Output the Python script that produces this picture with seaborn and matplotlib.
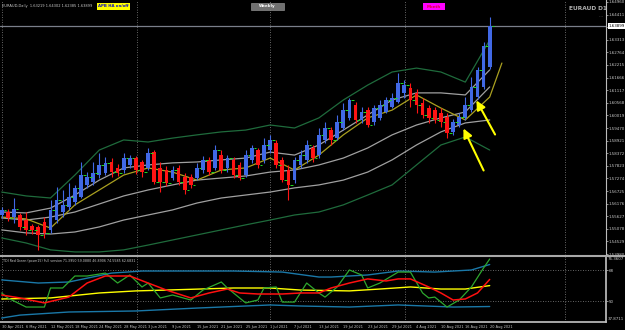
import matplotlib
matplotlib.use("Agg")
import matplotlib.pyplot as plt
import matplotlib.transforms as mtransforms
from matplotlib.patches import Rectangle
from matplotlib.lines import Line2D
import numpy as np
import seaborn as sns

# --- data (EURAUD daily, 30 Apr - 20 Aug 2021) ---
date_labels = ["30 Apr 2021", "6 May 2021", "12 May 2021", "18 May 2021", "24 May 2021",
               "28 May 2021", "3 Jun 2021", "9 Jun 2021", "15 Jun 2021", "21 Jun 2021",
               "25 Jun 2021", "1 Jul 2021", "7 Jul 2021", "13 Jul 2021", "19 Jul 2021",
               "23 Jul 2021", "29 Jul 2021", "4 Aug 2021", "10 Aug 2021", "16 Aug 2021",
               "20 Aug 2021"]

opens = [1.5568, 1.5581, 1.5559, 1.5568, 1.5546, 1.5520, 1.5516, 1.5538, 1.5503, 1.5546,
         1.5581, 1.5603, 1.5625, 1.5646, 1.5699, 1.5712, 1.5742, 1.5751, 1.5799, 1.5773,
         1.5764, 1.5786, 1.5816, 1.5799, 1.5773, 1.5842, 1.5773, 1.5764, 1.5729, 1.5773,
         1.5734, 1.5734, 1.5729, 1.5764, 1.5808, 1.5773, 1.5829, 1.5773, 1.5808, 1.5786,
         1.5742, 1.5808, 1.5851, 1.5808, 1.5851, 1.5881, 1.5808, 1.5764, 1.5720, 1.5786,
         1.5808, 1.5860, 1.5829, 1.5894, 1.5938, 1.5903, 1.5946, 1.5991, 1.6047, 1.5982,
         1.6025, 1.5973, 1.5991, 1.6016, 1.6038, 1.6060, 1.6100, 1.6121, 1.6100, 1.6056,
         1.6034, 1.6025, 1.6012, 1.5995, 1.5929, 1.5960, 1.5991, 1.6025, 1.6082, 1.6126,
         1.6213]
highs = [1.5603, 1.5594, 1.5642, 1.5577, 1.5581, 1.5529, 1.5525, 1.5559, 1.5633, 1.5690,
         1.5677, 1.5707, 1.5699, 1.5799, 1.5755, 1.5799, 1.5838, 1.5820, 1.5816, 1.5790,
         1.5838, 1.5829, 1.5825, 1.5808, 1.5860, 1.5851, 1.5799, 1.5782, 1.5782, 1.5786,
         1.5751, 1.5747, 1.5795, 1.5825, 1.5820, 1.5872, 1.5851, 1.5829, 1.5820, 1.5799,
         1.5851, 1.5872, 1.5860, 1.5903, 1.5916, 1.5894, 1.5820, 1.5786, 1.5820, 1.5851,
         1.5894, 1.5872, 1.5946, 1.5973, 1.5951, 1.6004, 1.6056, 1.6078, 1.6060, 1.6038,
         1.6038, 1.6047, 1.6069, 1.6082, 1.6100, 1.6187, 1.6156, 1.6143, 1.6117, 1.6078,
         1.6047, 1.6038, 1.6034, 1.6012, 1.5986, 1.6012, 1.6082, 1.6169, 1.6213, 1.6322,
         1.6431]
lows = [1.5555, 1.5542, 1.5533, 1.5503, 1.5481, 1.5485, 1.5416, 1.5468, 1.5490, 1.5533,
        1.5559, 1.5590, 1.5612, 1.5642, 1.5686, 1.5699, 1.5729, 1.5742, 1.5734, 1.5738,
        1.5751, 1.5773, 1.5747, 1.5734, 1.5764, 1.5703, 1.5668, 1.5694, 1.5720, 1.5699,
        1.5659, 1.5686, 1.5720, 1.5751, 1.5742, 1.5764, 1.5751, 1.5755, 1.5729, 1.5720,
        1.5734, 1.5795, 1.5773, 1.5795, 1.5838, 1.5773, 1.5712, 1.5633, 1.5707, 1.5773,
        1.5795, 1.5799, 1.5816, 1.5881, 1.5872, 1.5894, 1.5938, 1.5982, 1.5969, 1.5969,
        1.5951, 1.5960, 1.5982, 1.6012, 1.6034, 1.6056, 1.6078, 1.6038, 1.6012, 1.5991,
        1.5969, 1.5969, 1.5951, 1.5903, 1.5916, 1.5951, 1.5982, 1.6016, 1.6073, 1.6117,
        1.6204]
closes = [1.5590, 1.5555, 1.5594, 1.5516, 1.5503, 1.5503, 1.5481, 1.5490, 1.5590, 1.5633,
          1.5612, 1.5646, 1.5686, 1.5742, 1.5734, 1.5751, 1.5786, 1.5795, 1.5755, 1.5751,
          1.5816, 1.5816, 1.5764, 1.5755, 1.5838, 1.5712, 1.5712, 1.5707, 1.5764, 1.5712,
          1.5677, 1.5699, 1.5773, 1.5808, 1.5755, 1.5851, 1.5764, 1.5816, 1.5742, 1.5729,
          1.5829, 1.5860, 1.5786, 1.5872, 1.5894, 1.5786, 1.5720, 1.5699, 1.5808, 1.5829,
          1.5872, 1.5816, 1.5916, 1.5946, 1.5894, 1.5973, 1.6025, 1.6069, 1.5982, 1.6016,
          1.5960, 1.6034, 1.6047, 1.6069, 1.6078, 1.6143, 1.6134, 1.6069, 1.6047, 1.6004,
          1.5991, 1.5982, 1.5973, 1.5925, 1.5973, 1.5995, 1.6047, 1.6126, 1.6200, 1.6304,
          1.6391]

# band lines, sampled every 4 bars (bar 0 .. 80)
band_bars = [0, 4, 8, 12, 16, 20, 24, 28, 32, 36, 40, 44, 48, 52, 56, 60, 64, 68, 72, 76, 80]
upper_green = [1.5668, 1.5651, 1.5642, 1.5742, 1.5851, 1.5895, 1.5886, 1.5903, 1.5917, 1.5930,
               1.5938, 1.5960, 1.5947, 1.5991, 1.6069, 1.6134, 1.6191, 1.6208, 1.6191, 1.6147, 1.6330]
upper_gray = [1.5581, 1.5577, 1.5598, 1.5655, 1.5720, 1.5773, 1.5786, 1.5795, 1.5799, 1.5808,
              1.5816, 1.5842, 1.5829, 1.5873, 1.5938, 1.6004, 1.6069, 1.6100, 1.6100, 1.6091, 1.6200]
mid_gray = [1.5555, 1.5546, 1.5559, 1.5581, 1.5616, 1.5651, 1.5677, 1.5699, 1.5720, 1.5729,
            1.5738, 1.5755, 1.5764, 1.5786, 1.5816, 1.5860, 1.5917, 1.5960, 1.5991, 1.6017, 1.6126]
lower_gray = [1.5503, 1.5490, 1.5485, 1.5494, 1.5516, 1.5546, 1.5568, 1.5590, 1.5620, 1.5642,
              1.5655, 1.5668, 1.5686, 1.5699, 1.5720, 1.5755, 1.5808, 1.5873, 1.5930, 1.5969, 1.5982]
lower_green = [1.5468, 1.5446, 1.5416, 1.5407, 1.5407, 1.5416, 1.5437, 1.5459, 1.5481, 1.5503,
               1.5525, 1.5546, 1.5568, 1.5581, 1.5612, 1.5655, 1.5699, 1.5786, 1.5873, 1.5908, 1.5851]
olive_bars = [0, 4, 8, 12, 16, 20, 24, 28, 32, 36, 40, 44, 48, 52, 56, 60, 64, 68, 72, 76, 80, 82]
olive_ma = [1.5559, 1.5551, 1.5511, 1.5612, 1.5677, 1.5742, 1.5773, 1.5755, 1.5720, 1.5764, 1.5773,
            1.5816, 1.5764, 1.5829, 1.5917, 1.5991, 1.6025, 1.6091, 1.6034, 1.5982, 1.6082, 1.6230]

# TDI sub-window
tdi_green_bars = [0, 1, 4, 7, 8, 10, 12, 14, 17, 19, 21, 23, 24, 26, 28, 31, 33, 36, 37, 40, 42,
                  43, 45, 46, 48, 50, 52, 53, 55, 57, 59, 60, 62, 65, 67, 69, 70, 71, 73, 75, 77, 79, 80]
tdi_green = [54.8, 51.9, 46.6, 46.6, 57.7, 57.7, 64.7, 64.7, 66.4, 60.6, 65.3, 58.3, 60.6, 51.9,
             53.6, 50.7, 56.5, 61.2, 57.7, 49.0, 50.7, 57.7, 58.3, 49.5, 49.5, 60.6, 54.8, 52.4,
             58.3, 68.2, 65.3, 57.7, 60.6, 67.0, 67.0, 54.8, 51.9, 52.4, 46.6, 50.7, 58.3, 69.4, 74.6]
tdi_red_bars = [0, 3, 7, 11, 14, 17, 21, 24, 27, 31, 34, 37, 39, 42, 46, 49, 52, 54, 57, 60, 63,
                65, 67, 70, 72, 74, 76, 78, 80]
tdi_red = [53.6, 51.9, 49.0, 52.4, 60.6, 64.7, 64.7, 60.6, 56.5, 51.9, 54.8, 57.1, 54.8, 54.2,
           54.2, 54.8, 54.8, 57.7, 60.6, 63.0, 61.8, 63.0, 63.0, 58.3, 54.8, 50.7, 51.3, 54.8, 62.7]
tdi_yellow_bars = [0, 8, 16, 22, 27, 38, 44, 49, 57, 62, 67, 72, 76, 80]
tdi_yellow = [51.3, 51.9, 54.8, 56.0, 56.5, 57.7, 57.7, 56.5, 56.0, 57.1, 58.3, 57.1, 57.1, 59.1]
tdi_up_bars = [0, 6, 11, 18, 23, 38, 46, 52, 54, 60, 65, 71, 77, 80]
tdi_upper = [62.4, 60.6, 61.2, 66.4, 67.6, 67.6, 67.0, 64.1, 64.1, 65.3, 67.6, 67.0, 68.2, 71.4]
tdi_lo_bars = [0, 3, 11, 22, 32, 44, 49, 57, 65, 74, 80]
tdi_lower = [40.2, 41.9, 43.7, 44.3, 46.0, 47.8, 47.2, 46.6, 47.8, 46.6, 46.9]
tdi_levels = [68, 50]
tdi_range = [37.8711, 76.3607]

price_ticks = ["1.53980", "1.54529", "1.55078", "1.55627", "1.56176", "1.56725", "1.57274",
               "1.57823", "1.58372", "1.58921", "1.59470", "1.60019", "1.60568", "1.61117",
               "1.61666", "1.62215", "1.62764", "1.63313", "1.63862", "1.64411", "1.64960"]

W, H = 625, 330
PX_PER_BAR = 6.1
PLOT_RIGHT = 606
MAIN_BOTTOM = 255
SUB_TOP, SUB_BOTTOM = 256, 322


def px_to_bar(px):
    return (px - 1.7) / PX_PER_BAR


def fig_box(fig, x0, y0, x1, y1, color, ec="none"):
    """Rectangle given in picture pixels (top-left origin)."""
    fig.add_artist(Rectangle((x0 / W, 1 - y1 / H), (x1 - x0) / W, (y1 - y0) / H,
                             transform=fig.transFigure, fc=color, ec=ec, lw=0.4))


def draw_candles(ax):
    x = np.arange(len(opens))
    o, h, l, c = map(np.array, (opens, highs, lows, closes))
    up = c >= o
    colors = np.where(up, "#4169e6", "#ff1414")
    ax.vlines(x, l, h, colors=colors, linewidth=0.8, zorder=4)
    ax.bar(x, np.abs(c - o), bottom=np.minimum(o, c), width=0.62, color=colors,
           linewidth=0, zorder=5)
    # little green marks the HA overlay puts on each bar
    ax.hlines(c, x + 0.3, x + 0.75, colors="#22dd22", linewidth=0.7, zorder=6)


def main():
    sns.set_theme(style="dark", rc={"axes.facecolor": "black", "figure.facecolor": "black"})
    plt.rcParams["font.family"] = ["DejaVu Sans"]
    txt = "#c8c8c8"

    fig = plt.figure(figsize=(W / 100, H / 100), dpi=100)
    ax = fig.add_axes([0, 1 - MAIN_BOTTOM / H, PLOT_RIGHT / W, MAIN_BOTTOM / H])
    sub = fig.add_axes([0, 1 - SUB_BOTTOM / H, PLOT_RIGHT / W, (SUB_BOTTOM - SUB_TOP) / H])

    xlim = (px_to_bar(0), px_to_bar(PLOT_RIGHT))
    grid_x = [px_to_bar(p) for p in (2, 137, 270, 405, 565)]

    # ---- main price pane ----
    top = 1.65047
    ax.set_xlim(*xlim)
    ax.set_ylim(top - MAIN_BOTTOM * 0.0004357, top)
    for gx in grid_x:
        ax.axvline(gx, color="#888888", linestyle=(0, (1, 2)), linewidth=0.6, zorder=1)

    for vals, col in [(upper_green, "#1f6b3c"), (lower_green, "#1f6b3c"),
                      (upper_gray, "#a0a0a0"), (mid_gray, "#a0a0a0"), (lower_gray, "#a0a0a0")]:
        sns.lineplot(x=band_bars, y=vals, ax=ax, color=col, linewidth=0.9, zorder=2)
    sns.lineplot(x=olive_bars, y=olive_ma, ax=ax, color="#aaa020", linewidth=0.9, zorder=3)

    draw_candles(ax)

    ax.axhline(closes[-1], color="#7a7f8a", linewidth=0.9, zorder=1)

    # yellow arrows
    for tail, head in [((81.1, 1.5908), (77.6, 1.6078)), ((79.2, 1.5751), (75.5, 1.5956))]:
        ax.annotate("", xy=head, xytext=tail,
                    arrowprops=dict(arrowstyle="-|>,head_length=0.45,head_width=0.22",
                                    color="#ffff00", lw=1.5), zorder=8)

    ax.yaxis.tick_right()
    ax.set_yticks([float(t) for t in price_ticks])
    # the label under the current-price box is hidden by it
    ax.set_yticklabels(["" if abs(float(t) - closes[-1]) < 0.002 else t for t in price_ticks])
    ax.tick_params(axis="y", colors=txt, labelsize=2.9, length=1.5, width=0.5, pad=0.6)
    ax.set_xticks([])
    for side in ("top", "left", "bottom"):
        ax.spines[side].set_visible(False)
    ax.spines["right"].set_color("#bbbbbb")
    ax.spines["right"].set_linewidth(0.8)

    # current price box
    ax.text(1.004, closes[-1], "1.63899",
            transform=mtransforms.blended_transform_factory(ax.transAxes, ax.transData),
            fontsize=2.9, color="black", va="center", ha="left",
            bbox=dict(boxstyle="square,pad=0.2", fc="white", ec="none"), zorder=10, clip_on=False)

    # header texts and buttons
    fig.text(2 / W, 1 - 6 / H, "EURAUD,Daily  1.63219 1.64302 1.62385 1.63899",
             fontsize=2.6, color=txt, va="center")
    fig_box(fig, 97, 3, 130, 9.5, "#ffff00")
    fig.text(113.5 / W, 1 - 6.3 / H, "APB HA on/off", fontsize=2.8, color="#1010c0",
             fontweight="bold", va="center", ha="center")
    fig_box(fig, 251, 3, 284, 9.5, "#707070", ec="#a0a0a0")
    fig.text(267.5 / W, 1 - 6.3 / H, "Weekly", fontsize=2.9, color="white",
             fontweight="bold", va="center", ha="center")
    fig_box(fig, 423, 3, 445, 10, "#ff00ff")
    fig.text(434 / W, 1 - 6.5 / H, "Month", fontsize=2.9, color="#e0003c",
             fontweight="bold", va="center", ha="center")
    fig.text(607 / W, 1 - 8 / H, "EURAUD D1", fontsize=4.2, color="#b0b0b0",
             fontweight="bold", va="center", ha="right")
    fig.text(604 / W, 1 - 16 / H, "----", fontsize=2.4, color="#707070", va="center", ha="right")

    # ---- TDI pane ----
    sub.set_xlim(*xlim)
    sub.set_ylim(*tdi_range)
    for gx in grid_x:
        sub.axvline(gx, color="#888888", linestyle=(0, (1, 2)), linewidth=0.6, zorder=1)
    for lv in tdi_levels:
        sub.axhline(lv, color="#888888", linestyle=(0, (1, 2)), linewidth=0.6, zorder=1)

    sns.lineplot(x=tdi_up_bars, y=tdi_upper, ax=sub, color="#1a78a8", linewidth=1.0)
    sns.lineplot(x=tdi_lo_bars, y=tdi_lower, ax=sub, color="#1a78a8", linewidth=1.0)
    sns.lineplot(x=tdi_yellow_bars, y=tdi_yellow, ax=sub, color="#ffff00", linewidth=1.0)
    sns.lineplot(x=tdi_green_bars, y=tdi_green, ax=sub, color="#2ea82e", linewidth=0.9)
    sns.lineplot(x=tdi_red_bars, y=tdi_red, ax=sub, color="#ff1010", linewidth=1.1)

    fig.text(3 / W, 1 - 261 / H,
             "TDI Red Green (posm15) Full version 71.3950 59.0880 46.8906 74.5585 62.6831",
             fontsize=2.3, color=txt, va="center")

    sub.yaxis.tick_right()
    sub.set_yticks(tdi_levels)
    sub.set_yticklabels([str(v) for v in tdi_levels])
    sub.tick_params(axis="y", colors=txt, labelsize=2.9, length=1.5, width=0.5, pad=0.6)
    fig.text(608 / W, 1 - 259.5 / H, "76.3607", fontsize=2.9, color=txt, va="center")
    fig.text(608 / W, 1 - 319 / H, "37.8711", fontsize=2.9, color=txt, va="center")

    sub.set_xticks(band_bars)
    sub.set_xticklabels(date_labels, ha="left")
    sub.tick_params(axis="x", colors=txt, labelsize=2.5, length=1.5, width=0.5, pad=0.5,
                    direction="out")
    sub.spines["left"].set_visible(False)
    sub.spines["top"].set_visible(False)
    sub.spines["right"].set_color("#bbbbbb")
    sub.spines["bottom"].set_color("#bbbbbb")
    for a in (ax, sub):
        a.grid(False)
        a.set_xlabel("")
        a.set_ylabel("")

    # pane separator runs across the whole window, price scale included
    fig.add_artist(Line2D([0, 1], [1 - 255.5 / H] * 2, transform=fig.transFigure,
                          color="#a8a8a8", linewidth=1.5))

    fig.savefig("out.png", dpi=100, facecolor="black")
    plt.close(fig)


if __name__ == "__main__":
    main()
